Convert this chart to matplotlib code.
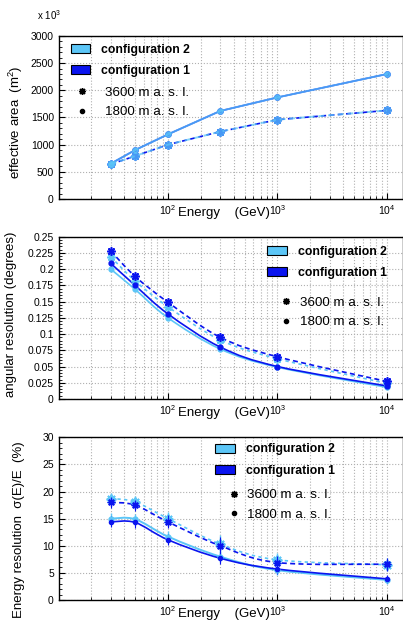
"""Performance curves: effective area, angular and energy resolution vs energy."""

import matplotlib
matplotlib.use("Agg")
import matplotlib.pyplot as plt
import numpy as np
from matplotlib.lines import Line2D
from matplotlib.patches import Patch, PathPatch
from matplotlib.path import Path
from matplotlib.ticker import (MultipleLocator, NullFormatter, LogLocator,
                               FormatStrFormatter)

plt.rcParams["font.family"] = ["Liberation Sans", "DejaVu Sans"]
plt.rcParams["mathtext.fontset"] = "custom"
plt.rcParams["mathtext.rm"] = "Liberation Sans"
plt.rcParams["mathtext.it"] = "Liberation Sans:italic"

# ---- data ----
energy = [30, 50, 100, 300, 1000, 10000]  # GeV

# effective area (x10^3 m^2)
area_c1_1800 = [650, 900, 1190, 1620, 1870, 2300]
area_c2_1800 = [650, 900, 1190, 1620, 1870, 2300]
area_c1_3600 = [640, 790, 1000, 1240, 1460, 1630]
area_c2_3600 = [640, 790, 1000, 1240, 1460, 1630]

# angular resolution (degrees)
ang_c1_3600 = [0.228, 0.189, 0.149, 0.095, 0.065, 0.027]
ang_c2_3600 = [0.219, 0.182, 0.142, 0.091, 0.062, 0.024]
ang_c1_1800 = [0.209, 0.175, 0.131, 0.080, 0.050, 0.020]
ang_c2_1800 = [0.200, 0.169, 0.125, 0.077, 0.049, 0.018]

# energy resolution (%)
eres_c1_1800 = [14.4, 14.3, 11.1, 7.7, 5.7, 3.9]
eres_c2_1800 = [15.0, 14.9, 11.7, 8.0, 5.5, 3.7]
eres_c1_3600 = [18.0, 17.5, 14.4, 10.0, 6.9, 6.6]
eres_c2_3600 = [18.7, 18.1, 15.0, 10.3, 7.4, 6.5]
err_1800 = [1.0, 1.0, 1.0, 1.0, 0.9, 0.8]
err_3600 = [1.0, 1.0, 1.2, 1.6, 1.2, 1.2]

LIGHT = "#5cc6f7"
BLUE = "#0a14ef"
GRID = "#b0b0b0"
CFG_SIZE = 8.8
ALT_SIZE = 9.6


def smooth_curve(ax, x, y, **kw):
    """Catmull-Rom style cubic Bezier through the points, in log-x space."""
    pts = np.column_stack([np.log10(x), y])
    ext = np.vstack([pts[0], pts, pts[-1]])
    verts, codes = [pts[0]], [Path.MOVETO]
    for i in range(len(pts) - 1):
        p0, p1, p2, p3 = ext[i], ext[i + 1], ext[i + 2], ext[i + 3]
        verts += [p1 + (p2 - p0) / 6, p2 - (p3 - p1) / 6, p2]
        codes += [Path.CURVE4] * 3
    verts = np.array(verts)
    verts[:, 0] = 10 ** verts[:, 0]
    ax.add_patch(PathPatch(Path(verts, codes), fill=False, **kw))


def style_axes(ax, ymax, major, minor):
    ax.set_xscale("log")
    ax.set_xlim(10.05, 14000)
    ax.set_ylim(0, ymax)
    ax.yaxis.set_major_locator(MultipleLocator(major))
    ax.yaxis.set_minor_locator(MultipleLocator(minor))
    ax.yaxis.set_major_formatter(FormatStrFormatter("%g"))
    ax.xaxis.set_major_locator(LogLocator(base=10, numticks=10))
    ax.xaxis.set_minor_locator(LogLocator(base=10, subs=np.arange(2, 10), numticks=20))
    ax.xaxis.set_minor_formatter(NullFormatter())
    ax.tick_params(which="both", direction="in", labelsize=7.5, top=False, right=False)
    ax.tick_params(which="major", length=4.5, width=0.8)
    ax.tick_params(which="minor", length=2.5, width=0.6)
    ax.tick_params(axis="x", pad=3)
    ax.grid(True, which="major", axis="y", linestyle=":", color=GRID, linewidth=0.8)
    ax.grid(True, which="both", axis="x", linestyle=":", color=GRID, linewidth=0.8)
    ax.set_axisbelow(True)
    for s in ax.spines.values():
        s.set_linewidth(1.0)
    ax.set_xlabel("Energy    (GeV)", fontsize=9.5, va="center")
    ax.xaxis.set_label_coords(0.479, -0.088)


def config_legend(ax, anchor):
    handles = [
        Patch(facecolor=LIGHT, edgecolor="black", linewidth=0.8, label="configuration 2"),
        Patch(facecolor=BLUE, edgecolor="black", linewidth=0.8, label="configuration 1"),
    ]
    leg = ax.legend(handles=handles, loc="upper left", bbox_to_anchor=anchor,
                    frameon=False, prop={"size": CFG_SIZE, "weight": "bold"},
                    handlelength=1.6, handleheight=0.75, handletextpad=0.9,
                    labelspacing=0.75, borderaxespad=0.3)
    ax.add_artist(leg)  # keep it when the next legend replaces ax.legend_


def altitude_legend(ax, anchor, handlelength=1.0, textpad=0.5):
    handles = [
        Line2D([], [], linestyle="none", marker=(8, 2, 0), markersize=5, color="black",
               markeredgewidth=1.0, label="3600 m a. s. l."),
        Line2D([], [], linestyle="none", marker="o", markersize=3, color="black",
               label="1800 m a. s. l."),
    ]
    ax.legend(handles=handles, loc="upper left", bbox_to_anchor=anchor,
              frameon=False, fontsize=ALT_SIZE, handlelength=handlelength,
              handletextpad=textpad, labelspacing=0.55, borderaxespad=0.3)


fig = plt.figure(figsize=(4.03, 6.29), dpi=100)
ax1 = fig.add_axes([0.1457, 0.6836, 0.8543, 0.2592])
ax2 = fig.add_axes([0.1457, 0.3657, 0.8543, 0.2580])
ax3 = fig.add_axes([0.1457, 0.0461, 0.8543, 0.2587])

# ---- panel 1: effective area ----
style_axes(ax1, 3000, 500, 100)
for vals, ls, mk, ms in [
    (area_c1_1800, "-", "o", 3.5),
    (area_c1_3600, (0, (3, 2)), (8, 2, 0), 6),
]:
    ax1.plot(energy, vals, linestyle=ls, color=BLUE, linewidth=1.2, marker=mk,
             markersize=ms, markeredgewidth=1.2)
for vals, ls, mk, ms in [
    (area_c2_1800, "-", "o", 3.5),
    (area_c2_3600, (0, (3, 2)), (8, 2, 0), 6),
]:
    ax1.plot(energy, vals, linestyle=ls, color=LIGHT, linewidth=1.4, marker=mk,
             markersize=ms, markeredgewidth=1.4, alpha=0.75)
ax1.set_ylabel("effective area  (m$^2$)", fontsize=9.5)
ax1.yaxis.set_label_coords(-0.098, 0.47)
ax1.text(-0.063, 1.13, "x 10$^{3}$", transform=ax1.transAxes, fontsize=7,
         ha="left", va="center")
config_legend(ax1, (0.01, 1.005))
altitude_legend(ax1, (0.01, 0.748), handlelength=1.6, textpad=0.9)

# ---- panel 2: angular resolution ----
style_axes(ax2, 0.25, 0.025, 0.005)
smooth_curve(ax2, energy, ang_c2_1800, edgecolor=LIGHT, linewidth=1.2)
smooth_curve(ax2, energy, ang_c2_3600, edgecolor=LIGHT, linewidth=1.2, linestyle=(0, (2, 2)))
smooth_curve(ax2, energy, ang_c1_1800, edgecolor=BLUE, linewidth=1.2)
smooth_curve(ax2, energy, ang_c1_3600, edgecolor=BLUE, linewidth=1.2, linestyle=(0, (3, 2)))
ax2.plot(energy, ang_c2_1800, "o", color=LIGHT, markersize=3.5, linestyle="none")
ax2.plot(energy, ang_c2_3600, marker=(8, 2, 0), color=LIGHT, markersize=6,
         markeredgewidth=1.2, linestyle="none")
ax2.plot(energy, ang_c1_1800, "o", color=BLUE, markersize=3.5, linestyle="none")
ax2.plot(energy, ang_c1_3600, marker=(8, 2, 0), color=BLUE, markersize=6,
         markeredgewidth=1.2, linestyle="none")
ax2.set_ylabel("angular resolution (degrees)", fontsize=9.5)
ax2.yaxis.set_label_coords(-0.12, 0.52)
config_legend(ax2, (0.58, 0.995))
altitude_legend(ax2, (0.615, 0.69))

# ---- panel 3: energy resolution ----
style_axes(ax3, 30, 5, 1)
smooth_curve(ax3, energy, eres_c2_1800, edgecolor=LIGHT, linewidth=1.4)
smooth_curve(ax3, energy, eres_c2_3600, edgecolor=LIGHT, linewidth=1.2, linestyle=(0, (2, 2)))
smooth_curve(ax3, energy, eres_c1_1800, edgecolor=BLUE, linewidth=1.2)
smooth_curve(ax3, energy, eres_c1_3600, edgecolor=BLUE, linewidth=1.2, linestyle=(0, (3, 2)))
ax3.errorbar(energy, eres_c2_1800, yerr=err_1800, fmt="o", color=LIGHT, markersize=3.5,
             elinewidth=1.0, capsize=0)
ax3.errorbar(energy, eres_c2_3600, yerr=err_3600, fmt="none", ecolor=LIGHT,
             elinewidth=1.0, capsize=0)
ax3.plot(energy, eres_c2_3600, marker=(8, 2, 0), color=LIGHT, markersize=7,
         markeredgewidth=1.4, linestyle="none")
ax3.errorbar(energy, eres_c1_1800, yerr=err_1800, fmt="o", color=BLUE, markersize=3,
             elinewidth=0.8, capsize=0)
ax3.errorbar(energy, eres_c1_3600, yerr=err_3600, fmt="none", ecolor=BLUE,
             elinewidth=0.8, capsize=0)
ax3.plot(energy, eres_c1_3600, marker=(8, 2, 0), color=BLUE, markersize=5.5,
         markeredgewidth=1.0, linestyle="none")
ax3.set_ylabel("Energy resolution  σ(E)/E  (%)", fontsize=9.5)
ax3.yaxis.set_label_coords(-0.098, 0.43)
config_legend(ax3, (0.43, 1.015))
altitude_legend(ax3, (0.462, 0.74))

fig.savefig("out.png", dpi=100)
